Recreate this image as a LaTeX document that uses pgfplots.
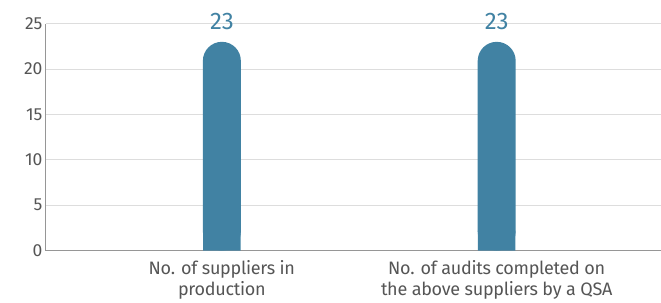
\documentclass[border=0pt]{standalone}
\usepackage{pgfplots}
\pgfplotsset{compat=1.18}
\usepackage{fontspec}
\setmainfont{Fira Sans}
\definecolor{barc}{RGB}{65,130,163}
\definecolor{tickc}{RGB}{85,85,85}
\definecolor{gridc}{RGB}{221,221,221}
\definecolor{axc}{RGB}{150,150,150}
\begin{document}
\begin{tikzpicture}
\begin{axis}[
  at={(0,0)}, anchor=south west,
  scale only axis, width=615bp, height=227bp,
  xmin=-0.64, xmax=1.596, ymin=0, ymax=25,
  ytick={0,5,...,25},
  xtick={0,1},
  xticklabels={No. of suppliers in\\production, No. of audits completed on\\the above suppliers by a QSA},
  xticklabel style={align=center, font=\fontsize{18bp}{21.5bp}\selectfont\addfontfeature{LetterSpace=-1.5}, text=tickc, yshift=-6bp},
  yticklabel style={font=\fontsize{17.5bp}{20bp}\selectfont, text=tickc},
  /pgf/number format/assume math mode=true,
  major tick length=0pt,
  ymajorgrids, grid style={gridc, line width=0.8bp},
  axis x line*=bottom, axis y line*=left,
  x axis line style={axc, line width=1bp, -},
  y axis line style={axc, line width=1bp, -},
  clip=false,
]
\addplot[ybar, bar width=38bp, bar shift=0pt, fill=barc, draw=none, rounded corners=19bp,
  nodes near coords, every node near coord/.append style={text=barc, font=\fontsize{24bp}{28bp}\selectfont, yshift=8.5bp}]
  coordinates {(0,23) (1,23)};
\addplot[ybar, bar width=37.6bp, bar shift=0pt, fill=barc, draw=none]
  coordinates {(0,2.2) (1,2.2)};
\end{axis}
\useasboundingbox (-46bp,-50.5bp) rectangle (615bp,250.7bp);
\end{tikzpicture}
\end{document}
